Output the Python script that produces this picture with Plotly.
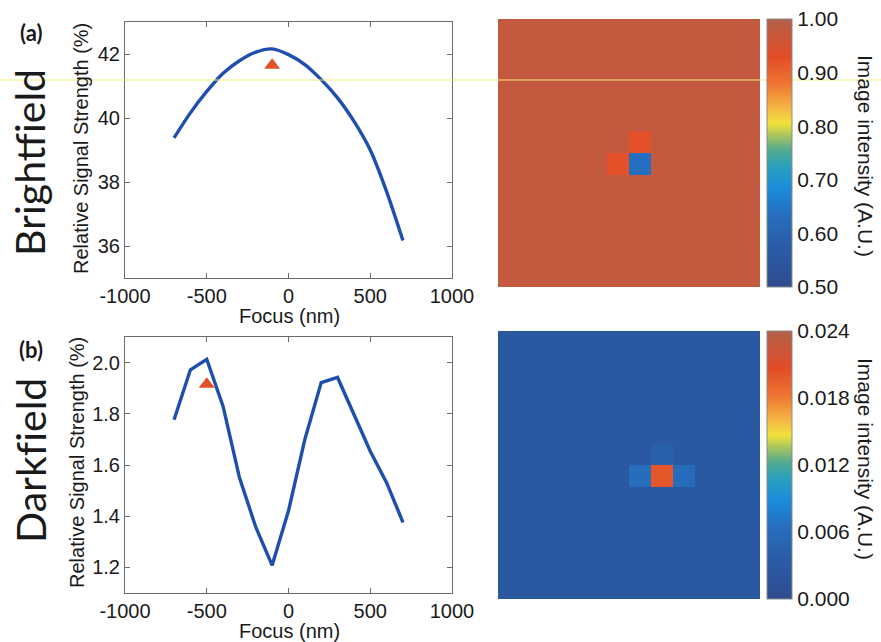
import plotly.graph_objects as go

W, H = 881, 642

# ---------------- data ----------------
focus_nm = [-700, -600, -500, -400, -300, -200, -100, 0, 100, 200, 300, 400, 500, 600, 700]
brightfield_signal = [39.38, 40.16, 40.83, 41.40, 41.79, 42.06, 42.16, 41.98, 41.67, 41.20, 40.63, 39.90, 39.00, 37.70, 36.17]
darkfield_signal = [1.777, 1.972, 2.013, 1.829, 1.551, 1.357, 1.208, 1.421, 1.700, 1.922, 1.942, 1.797, 1.654, 1.531, 1.376]

brightfield_marker_x = [-100]
brightfield_marker_y = [41.65]
darkfield_marker_x = [-500]
darkfield_marker_y = [1.915]

grid_n = 12
bf_background = 0.975
bf_cells = [(6, 6, 0.635), (5, 6, 0.925), (6, 5, 0.925)]   # (row, col, value)
df_background = 0.0029
df_cells = [(6, 7, 0.0200), (6, 6, 0.0062), (6, 8, 0.0060), (5, 7, 0.0040)]

x_ticks = [-1000, -500, 0, 500, 1000]
x_tick_labels = ["-1000", "-500", "0", "500", "1000"]
bf_y_ticks = [36, 38, 40, 42]
df_y_ticks = [1.2, 1.4, 1.6, 1.8, 2.0]
bf_cb_ticks = [0.5, 0.6, 0.7, 0.8, 0.9, 1.0]
df_cb_ticks = [0.0, 0.006, 0.012, 0.018, 0.024]


def build_grid(bg, cells):
    z = [[bg] * grid_n for _ in range(grid_n)]
    for r, c, v in cells:
        z[r][c] = v
    return z


bf_z = build_grid(bf_background, bf_cells)
df_z = build_grid(df_background, df_cells)

jet_like = [
    [0.00, "#2d4c8e"], [0.15, "#2b5ca6"], [0.28, "#2670c2"], [0.37, "#1b8cdc"],
    [0.45, "#2aa0bc"], [0.51, "#52aa8e"], [0.56, "#9ec262"], [0.61, "#f2e23c"],
    [0.67, "#f4b444"], [0.76, "#ee7432"], [0.86, "#e24c28"], [1.00, "#b2604a"],
]


def px_x(p):
    return p / W


def px_y(p):
    return 1 - p / H


FONT = "Liberation Sans, Arial, sans-serif"
LINE_BLUE = "#1e4fae"
TRI_RED = "#e0522a"

fig = go.Figure()

fig.add_trace(go.Scatter(x=focus_nm, y=brightfield_signal, mode="lines",
                         line=dict(color=LINE_BLUE, width=3.4, shape="spline", smoothing=0.8),
                         xaxis="x", yaxis="y", showlegend=False))
fig.add_trace(go.Scatter(x=brightfield_marker_x, y=brightfield_marker_y, mode="markers",
                         marker=dict(symbol="triangle-up", size=14, color=TRI_RED),
                         xaxis="x", yaxis="y", showlegend=False))
fig.add_trace(go.Scatter(x=focus_nm, y=darkfield_signal, mode="lines",
                         line=dict(color=LINE_BLUE, width=3.4), xaxis="x2", yaxis="y2",
                         showlegend=False))
fig.add_trace(go.Scatter(x=darkfield_marker_x, y=darkfield_marker_y, mode="markers",
                         marker=dict(symbol="triangle-up", size=14, color=TRI_RED),
                         xaxis="x2", yaxis="y2", showlegend=False))

cb_common = dict(thickness=25, thicknessmode="pixels", len=268, lenmode="pixels",
                 x=px_x(767), xanchor="left", xpad=0, ypad=0, yanchor="middle",
                 outlinecolor="#8a8a8a", outlinewidth=1, ticks="",
                 tickfont=dict(family=FONT, size=21, color="#1a1a1a"))

fig.add_trace(go.Heatmap(z=bf_z, colorscale=jet_like, zmin=0.5, zmax=1.0,
                         xaxis="x3", yaxis="y3", showscale=True,
                         colorbar=dict(**cb_common, y=px_y(153), tickvals=bf_cb_ticks,
                                       tickformat=".2f")))
fig.add_trace(go.Heatmap(z=df_z, colorscale=jet_like, zmin=0.0, zmax=0.024,
                         xaxis="x4", yaxis="y4", showscale=True,
                         colorbar=dict(**cb_common, y=px_y(465), tickvals=df_cb_ticks,
                                       tickformat=".3f")))

ax_common = dict(showgrid=False, zeroline=False, showline=True, linecolor="#6a6a6a",
                 linewidth=1, mirror="ticks", ticks="inside", ticklen=5, tickcolor="#6a6a6a",
                 tickfont=dict(family=FONT, size=20, color="#1a1a1a"))

hm_ax = dict(visible=False, showgrid=False, zeroline=False)

fig.update_layout(
    width=W, height=H, margin=dict(l=0, r=0, t=0, b=0, autoexpand=False),
    paper_bgcolor="white", plot_bgcolor="white",
    xaxis=dict(**ax_common, domain=[px_x(125), px_x(452)], range=[-1000, 1000],
               tickvals=x_ticks, ticktext=x_tick_labels, anchor="y"),
    yaxis=dict(**ax_common, domain=[px_y(278), px_y(22)], range=[35, 43],
               tickvals=bf_y_ticks, anchor="x"),
    xaxis2=dict(**ax_common, domain=[px_x(125), px_x(452)], range=[-1000, 1000],
                tickvals=x_ticks, ticktext=x_tick_labels, anchor="y2"),
    yaxis2=dict(**ax_common, domain=[px_y(593), px_y(337)], range=[1.1, 2.1],
                tickvals=df_y_ticks, tickformat=".1f", anchor="x2"),
    xaxis3=dict(**hm_ax, domain=[px_x(498), px_x(760)], range=[-0.5, grid_n - 0.5], anchor="y3"),
    yaxis3=dict(**hm_ax, domain=[px_y(287), px_y(19)], range=[grid_n - 0.5, -0.5], anchor="x3"),
    xaxis4=dict(**hm_ax, domain=[px_x(498), px_x(760)], range=[-0.5, grid_n - 0.5], anchor="y4"),
    yaxis4=dict(**hm_ax, domain=[px_y(599), px_y(331)], range=[grid_n - 0.5, -0.5], anchor="x4"),
)

ann = []


def add_text(text, x, y, size, angle=0, family=FONT, bold=False, color="#1a1a1a"):
    ann.append(dict(text=f"<b>{text}</b>" if bold else text, x=px_x(x), y=px_y(y),
                    xref="paper", yref="paper", showarrow=False, textangle=angle,
                    xanchor="center", yanchor="middle",
                    font=dict(family=family, size=size, color=color)))


add_text("Brightf\u200cield", 30, 163, 41, angle=-90, family="Lato, sans-serif")
add_text("Darkf\u200cield", 30, 461, 41, angle=-90, family="Lato, sans-serif")
add_text("(a)", 31, 32, 22, bold=True, family="Lato, sans-serif")
add_text("(b)", 31, 349, 22, bold=True, family="Lato, sans-serif")
add_text("Relative Signal Strength (%)", 81, 149, 20, angle=-90)
add_text("Relative Signal Strength (%)", 77, 463, 20, angle=-90)
add_text("Focus (nm)", 289, 316, 20)
add_text("Focus (nm)", 289, 631, 20)
add_text("Image intensity (A.U.)", 866, 156, 21, angle=90)
add_text("Image intensity (A.U.)", 866, 459, 21, angle=90)

fig.update_layout(annotations=ann)

# scanning artifact line across the page
fig.add_shape(type="line", xref="paper", yref="paper", x0=0, x1=1, y0=px_y(80), y1=px_y(80),
              line=dict(color="#f2ee7a", width=1))

fig.write_html("out.html")
